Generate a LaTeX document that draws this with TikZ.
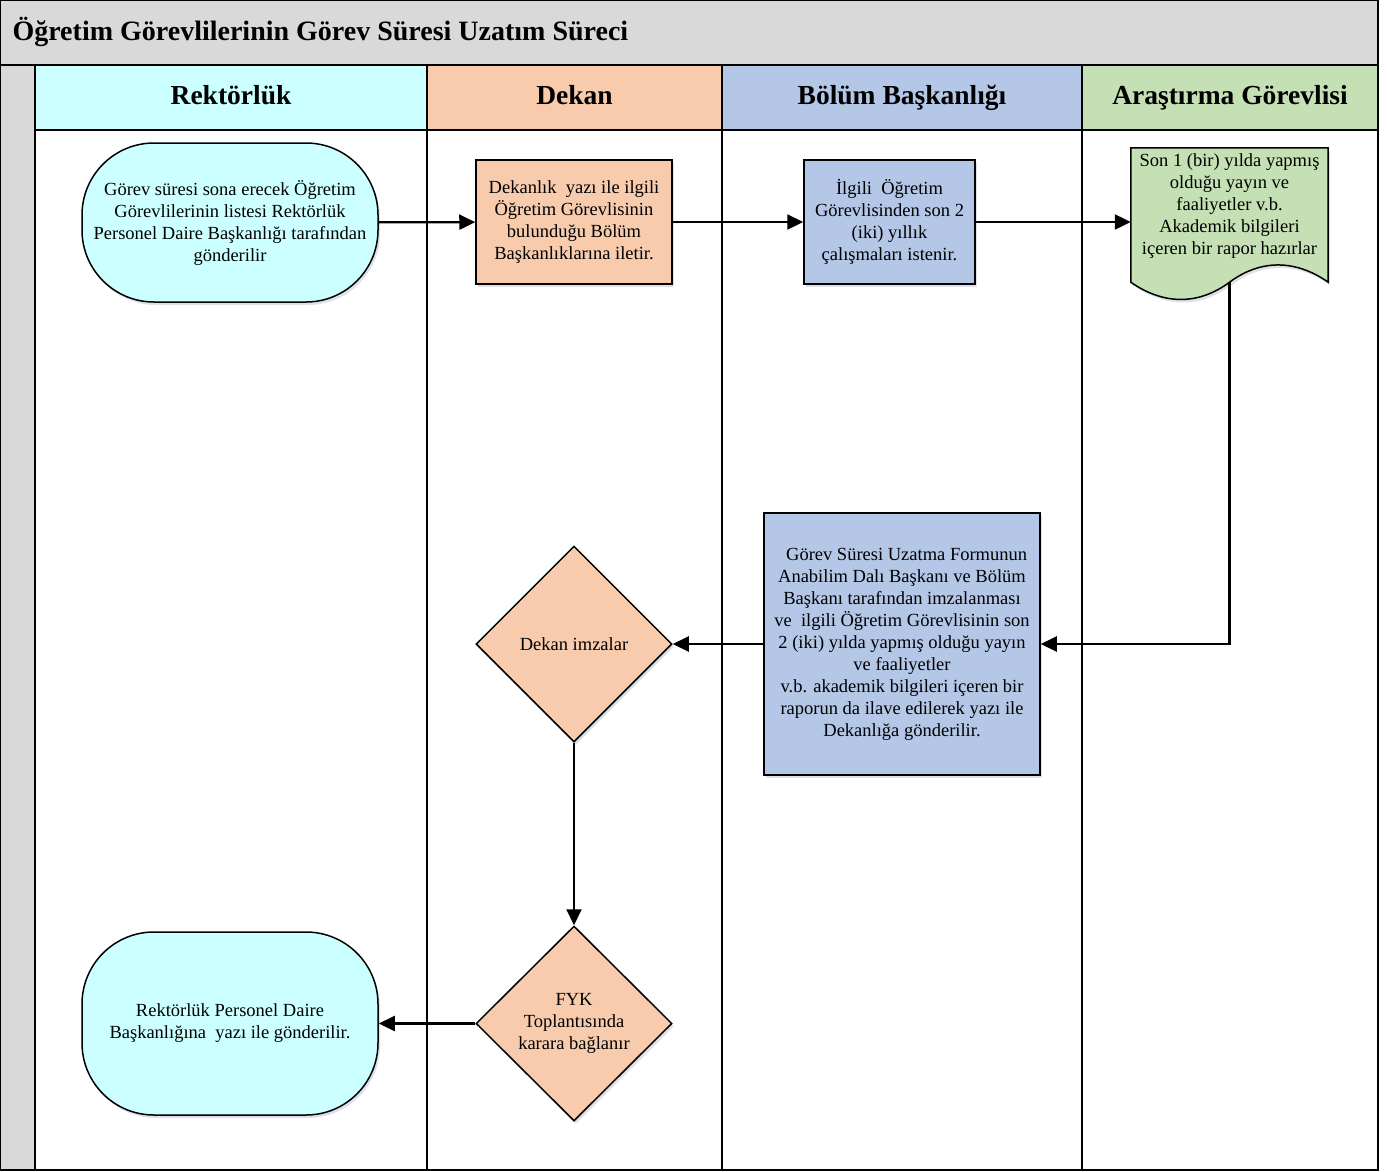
\documentclass[tikz,border=0pt]{standalone}
\usepackage{fontspec}
\setmainfont{Liberation Serif}
\usetikzlibrary{arrows.meta,shapes.geometric,shadows,backgrounds}
\definecolor{gricol}{HTML}{D9D9D9}
\definecolor{rekcol}{HTML}{CCFFFF}
\definecolor{dekcol}{HTML}{F8CBAD}
\definecolor{bolcol}{HTML}{B4C7E7}
\definecolor{arscol}{HTML}{C5E0B4}
\tikzset{every picture/.style={x=1pt,y=-1pt}}
\tikzset{cizgi/.style={line width=2pt}}
\tikzset{golge/.style={drop shadow={shadow xshift=2pt,shadow yshift=-3pt,fill=bolcol!70!black,opacity=.25}}}
\tikzset{metin/.style={align=center,inner sep=0pt,font=\fontsize{18.5}{22}\selectfont}}
\tikzset{kutu/.style={rectangle,draw,line width=1.5pt,golge,metin}}
\tikzset{karar/.style={diamond,aspect=1,draw,line width=1.5pt,golge,metin}}
\tikzset{uc/.style={rectangle,rounded corners=72pt,draw,line width=1.5pt,golge,metin,fill=rekcol,minimum width=296pt}}
\tikzset{serit/.style={rectangle,draw,cizgi,minimum height=65pt,text height=19pt,text depth=5pt,font=\bfseries\fontsize{27.5}{32}\selectfont}}
\tikzset{ok/.style={line width=2.2pt,-{Triangle[length=16pt,width=15pt]}}}

\begin{document}
\begin{tikzpicture}
\useasboundingbox (0,0) rectangle (1387,1171);

\begin{scope}[on background layer]
\fill[gricol] (0,0) rectangle (1378,1170);
\fill[white] (35,130) rectangle (1378,1170);
\draw[cizgi] (0,0) rectangle (1378,1170);
\draw[cizgi] (0,65) -- (35,65);
\node[serit,fill=rekcol,minimum width=392pt] (rektorluk) at (231,97.5) {Rektörlük};
\node[serit,fill=dekcol,minimum width=295pt] (dekan) at (574.5,97.5) {Dekan};
\node[serit,fill=bolcol,minimum width=360pt] (bolumbsk) at (902,97.5) {Bölüm Başkanlığı};
\node[serit,fill=arscol,minimum width=296pt] (arastirma) at (1230,97.5) {Araştırma Görevlisi};
\foreach \x in {35,427,722,1082,1378}
  \draw[cizgi] (\x,130) -- (\x,1170);
\end{scope}

\node[anchor=base west,font=\bfseries\fontsize{28}{32}\selectfont] (baslik) at (9,40) {Öğretim Görevlilerinin Görev Süresi Uzatım Süreci};

\node[uc,minimum height=159pt] (baslangic) at (230,222.5) {Görev süresi sona erecek Öğretim\\Görevlilerinin listesi Rektörlük\\Personel Daire Başkanlığı tarafından\\gönderilir};
\node[kutu,fill=dekcol,minimum width=196pt,minimum height=124pt] (dekanlik) at (574,222) {Dekanlık\ \ yazı ile ilgili\\Öğretim Görevlisinin\\bulunduğu Bölüm\\Başkanlıklarına iletir.};
\node[kutu,fill=bolcol,minimum width=171pt,minimum height=124pt] (bolum) at (889.5,222) {İlgili\ \ Öğretim\\Görevlisinden son 2\\(iki) yıllık\\çalışmaları istenir.};
\node[metin,minimum width=197pt,minimum height=116pt] (rapor) at (1229.5,206) {Son 1 (bir) yılda yapmış\\olduğu yayın ve\\faaliyetler v.b.\\Akademik bilgileri\\içeren bir rapor hazırlar};
\node[kutu,fill=bolcol,minimum width=276pt,minimum height=262pt] (form) at (902,644) {\ \ Görev Süresi Uzatma Formunun\\Anabilim Dalı Başkanı ve Bölüm\\Başkanı tarafından imzalanması\\ve\ \ ilgili Öğretim Görevlisinin son\\2 (iki) yılda yapmış olduğu yayın\\ve faaliyetler\\v.b. akademik bilgileri içeren bir\\raporun da ilave edilerek yazı ile\\Dekanlığa gönderilir.};
\node[karar,fill=dekcol,minimum width=196pt,minimum height=196pt] (imza) at (574,644) {Dekan imzalar};
\node[karar,fill=dekcol,minimum width=196pt,minimum height=195pt] (fyk) at (574,1023.5) {FYK\\Toplantısında\\karara bağlanır};
\node[uc,minimum height=183pt] (bitis) at (230,1023.5) {Rektörlük Personel Daire\\Başkanlığına\ \ yazı ile gönderilir.};

\begin{scope}[on background layer]
\draw[line width=1.5pt,fill=arscol,golge] (rapor.north west) -- (rapor.north east) -- ([yshift=-18pt]rapor.south east)
  .. controls +(-33,-23) and +(31,-23) .. ([yshift=-18pt]rapor.south)
  .. controls +(-31,23) and +(33,23) .. ([yshift=-18pt]rapor.south west) -- cycle;
\end{scope}
\coordinate (raporalt) at ([yshift=-18pt]rapor.south);

\draw[ok] (baslangic) -- (dekanlik);
\draw[ok] (dekanlik) -- (bolum);
\draw[ok] (bolum.east) -- (bolum.east -| rapor.west);
\draw[ok] (raporalt) |- (form.east);
\draw[ok] (form) -- (imza);
\draw[ok] (imza) -- (fyk);
\draw[ok] (fyk) -- (bitis);
\end{tikzpicture}
\end{document}
